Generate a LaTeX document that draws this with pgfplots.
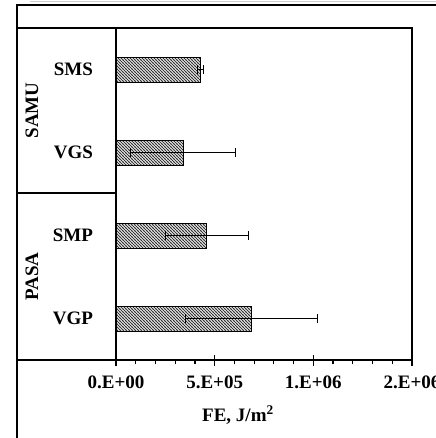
\documentclass[border=0pt]{standalone}
\usepackage{fontspec}
\setmainfont{Liberation Serif}
\usepackage{pgfplots}
\usepackage{pgfplotstable}
\pgfplotsset{compat=1.18}
\usetikzlibrary{patterns}

% dense diagonal hatch, tile of whole bp so it rasterises evenly
\pgfdeclarepatternformonly{hatchnw}{\pgfqpoint{-1bp}{-1bp}}{\pgfqpoint{4bp}{4bp}}{\pgfqpoint{3bp}{3bp}}{
  \pgfsetlinewidth{0.9bp}
  \pgfpathmoveto{\pgfqpoint{-0.5bp}{3.5bp}}
  \pgfpathlineto{\pgfqpoint{3.5bp}{-0.5bp}}
  \pgfusepath{stroke}
}

% FE values (J/m^2) with standard deviations
\pgfplotstableread{
pos  fe      err
0    685000  335000
1    461000  212000
2    340000  267000
3    429000  15000
}\fedata

\begin{document}
\fontsize{19bp}{23bp}\selectfont\bfseries
\begin{tikzpicture}
% table-like frame around the chart
\draw[gray!40, line width=1bp] (30bp,-1bp) -- (436bp,-1bp);
\draw[line width=1.6bp] (17bp,-440bp) -- (17bp,-5bp) -- (440bp,-5bp);
\draw[line width=1.6bp] (17bp,-28bp) -- (116bp,-28bp);
\draw[line width=1.6bp] (17bp,-193bp) -- (116bp,-193bp);
\draw[line width=1.6bp] (17bp,-360bp) -- (116bp,-360bp);
\node[rotate=90] at (32bp,-110.5bp) {SAMU};
\node[rotate=90] at (32bp,-276.5bp) {PASA};

\begin{axis}[
    at={(116bp,-360bp)}, anchor=south west,
    scale only axis,
    width=296bp, height=332bp,
    xbar,
    bar width=25bp,
    xmin=0, xmax=1500000,
    ymin=-0.5, ymax=3.5,
    axis line style={line width=1.6bp},
    xtick={0,500000,1000000,1500000},
    xticklabels={0.E+00,5.E+05,1.E+06,2.E+06},
    scaled x ticks=false,
    minor x tick num=4,
    xtick pos=bottom,
    tick align=center,
    major tick length=11bp,
    minor tick length=4bp,
    every tick/.style={black, line width=1.2bp},
    minor tick style={yshift=-2bp},
    xticklabel style={yshift=-4bp},
    ytick={0,1,2,3},
    yticklabels={VGP,SMP,VGS,SMS},
    ytick style={draw=none},
    yticklabel style={xshift=-11bp},
    xlabel={FE, J/m\textsuperscript{2}},
    xlabel style={at={(axis description cs:0.412,-0.166)}, anchor=center},
]
\addplot[
    draw=black, line width=1bp,
    pattern=hatchnw,
    pattern color=black!80,
    error bars/.cd,
        x dir=both, x explicit,
        error bar style={line width=1bp, black},
        error mark options={rotate=90, mark size=4.5bp, line width=1bp},
] table[x=fe, y=pos, x error=err] {\fedata};
\end{axis}

\pgfresetboundingbox
\useasboundingbox (0,0) rectangle (436bp,-438bp);
\end{tikzpicture}
\end{document}
